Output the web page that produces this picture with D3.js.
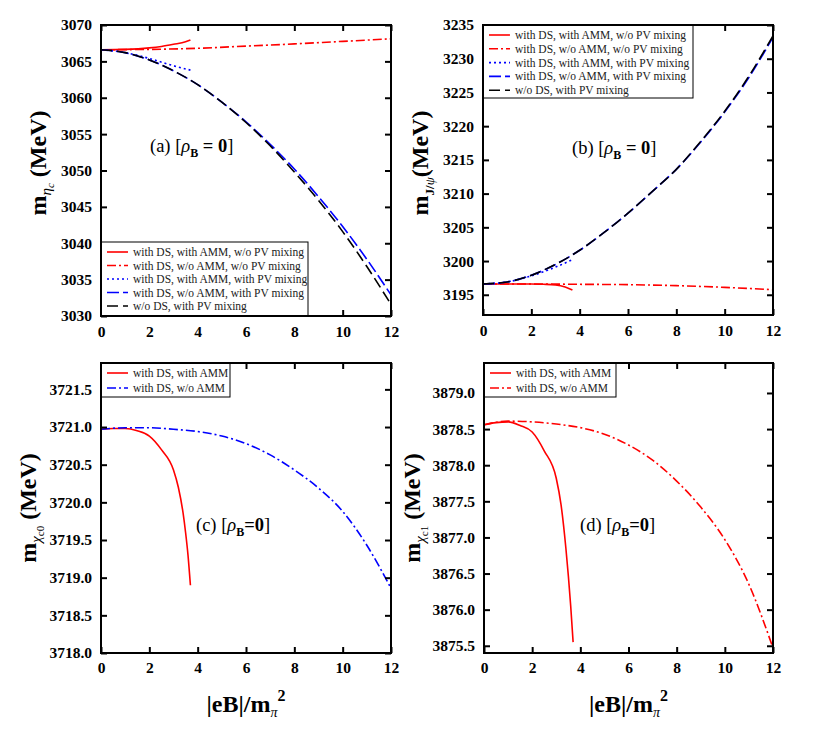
<!DOCTYPE html>
<html>
<head>
<meta charset="utf-8">
<script src="https://cdn.jsdelivr.net/npm/d3@7"></script>
<style>
  body { margin: 0; background: #fff; }
  svg text { font-family: "Liberation Serif", "Times New Roman", Times, "DejaVu Serif", serif; }
</style>
</head>
<body>
<div id="chart"></div>
<script>
// ---- data ----
var eBTicks = [0, 2, 4, 6, 8, 10, 12];

// (a) eta_c
var etaDsAmmNoPv   = [[0,3066.6],[1,3066.65],[2,3066.85],[2.5,3067.05],[3,3067.35],[3.5,3067.7],[3.7,3067.95]];
var etaDsNoAmmNoPv = [[0,3066.6],[2,3066.65],[4,3066.8],[6,3067.1],[8,3067.4],[10,3067.75],[12,3068.1]];
var etaDsAmmPv     = [[0,3066.6],[1,3066.2],[2,3065.4],[3,3064.4],[3.7,3063.8]];
var etaDsNoAmmPv   = [[0,3066.6],[1,3066.2],[2,3065.2],[3,3063.7],[4,3061.8],[5,3059.4],[6,3056.7],[7,3053.6],[8,3050.2],[9,3046.4],[10,3042.3],[11,3037.8],[12,3032.9]];
var etaNoDsPv      = [[0,3066.6],[1,3066.2],[2,3065.2],[3,3063.7],[4,3061.8],[5,3059.4],[6,3056.6],[7,3053.4],[8,3049.8],[9,3045.9],[10,3041.6],[11,3036.8],[12,3031.6]];
var etaTicks = [3030, 3035, 3040, 3045, 3050, 3055, 3060, 3065, 3070];

// (b) J/psi
var psiDsAmmNoPv   = [[0,3196.6],[1,3196.6],[2,3196.6],[2.5,3196.55],[3,3196.45],[3.4,3196.15],[3.7,3195.7]];
var psiDsNoAmmNoPv = [[0,3196.6],[2,3196.6],[4,3196.55],[6,3196.5],[8,3196.35],[10,3196.1],[12,3195.75]];
var psiDsAmmPv     = [[0,3196.6],[1,3196.9],[2,3197.8],[3,3199.1],[3.7,3200.2]];
var psiDsNoAmmPv   = [[0,3196.6],[1,3196.9],[2,3197.9],[3,3199.5],[4,3201.6],[5,3204.2],[6,3207.1],[7,3210.3],[8,3213.6],[9,3217.6],[10,3222.1],[11,3227.2],[12,3233.2]];
var psiNoDsPv      = [[0,3196.6],[1,3196.9],[2,3197.9],[3,3199.5],[4,3201.6],[5,3204.2],[6,3207.1],[7,3210.3],[8,3213.6],[9,3217.7],[10,3222.2],[11,3227.4],[12,3233.4]];
var psiTicks = [3195, 3200, 3205, 3210, 3215, 3220, 3225, 3230, 3235];

// (c) chi_c0
var chi0Amm   = [[0,3720.97],[0.5,3720.98],[1,3720.98],[1.5,3720.95],[2,3720.88],[2.5,3720.7],[3,3720.43],[3.2,3720.2],[3.4,3719.85],[3.5,3719.6],[3.6,3719.3],[3.7,3718.9]];
var chi0NoAmm = [[0,3720.97],[1,3720.99],[2,3720.99],[3,3720.97],[4,3720.94],[5,3720.88],[6,3720.78],[7,3720.63],[8,3720.43],[9,3720.19],[10,3719.88],[11,3719.43],[12,3718.86]];
var chi0Ticks = [3718.0, 3718.5, 3719.0, 3719.5, 3720.0, 3720.5, 3721.0, 3721.5];

// (d) chi_c1
var chi1Amm   = [[0,3878.56],[0.5,3878.59],[1,3878.6],[1.5,3878.55],[2,3878.46],[2.5,3878.2],[3,3877.82],[3.2,3877.45],[3.4,3876.85],[3.6,3876.05],[3.7,3875.55]];
var chi1NoAmm = [[0,3878.56],[1,3878.61],[2,3878.6],[3,3878.57],[4,3878.52],[5,3878.43],[6,3878.28],[7,3878.07],[8,3877.78],[9,3877.42],[10,3876.97],[11,3876.35],[12,3875.47]];
var chi1Ticks = [3875.5, 3876.0, 3876.5, 3877.0, 3877.5, 3878.0, 3878.5, 3879.0];

var legend5 = ["with DS, with AMM, w/o PV mixing", "with DS, w/o AMM, w/o PV mixing",
               "with DS, with AMM, with PV mixing", "with DS, w/o AMM, with PV mixing",
               "w/o DS, with PV mixing"];
var legend2 = ["with DS, with AMM", "with DS, w/o AMM"];

// line styles
var sSolidRed   = {color: "#ff0000", dash: null};
var sDashDotRed = {color: "#ff0000", dash: "9,3,2,3"};
var sDotBlue    = {color: "#0000ff", dash: "2,3"};
var sDashBlue   = {color: "#0000ff", dash: "12,4"};
var sDashDotBlue= {color: "#0000ff", dash: "9,3,2,3"};
var sDashBlack  = {color: "#000000", dash: "11,5"};

var FONT = "'Liberation Serif', 'Times New Roman', Times, serif";

var svg = d3.select("#chart").append("svg")
    .attr("width", 830).attr("height", 755)
    .attr("font-family", FONT)
    .style("background", "white");

function drawPanel(p) {
    var x = d3.scaleLinear().domain([0, 12]).range([p.left, p.right]);
    var y = d3.scaleLinear().domain(p.yDomain).range([p.bottom, p.top]);
    var g = svg.append("g");

    var line = d3.line()
        .x(function (d) { return x(d[0]); })
        .y(function (d) { return y(d[1]); })
        .curve(d3.curveMonotoneX);

    var clipId = "clip" + p.id;
    g.append("clipPath").attr("id", clipId).append("rect")
        .attr("x", p.left).attr("y", p.top)
        .attr("width", p.right - p.left).attr("height", p.bottom - p.top);

    var lines = g.append("g").attr("clip-path", "url(#" + clipId + ")");
    p.series.forEach(function (s) {
        lines.append("path")
            .attr("d", line(s.data))
            .attr("fill", "none")
            .attr("stroke", s.style.color)
            .attr("stroke-width", 1.6)
            .attr("stroke-dasharray", s.style.dash);
    });

    // axes, ticks point inward on all four sides
    var ax = g.append("g").attr("transform", "translate(0," + p.bottom + ")")
        .call(d3.axisBottom(x).tickValues(eBTicks).tickSize(-6).tickPadding(p.xPad).tickFormat(d3.format("d")));
    var axTop = g.append("g").attr("transform", "translate(0," + p.top + ")")
        .call(d3.axisTop(x).tickValues(eBTicks).tickSize(-6).tickFormat(""));
    var ay = g.append("g").attr("transform", "translate(" + p.left + ",0)")
        .call(d3.axisLeft(y).tickValues(p.yTicks).tickSize(-6).tickPadding(9).tickFormat(p.yFormat));
    var ayR = g.append("g").attr("transform", "translate(" + p.right + ",0)")
        .call(d3.axisRight(y).tickValues(p.yTicks).tickSize(-6).tickFormat(""));

    [ax, axTop, ay, ayR].forEach(function (a) {
        a.attr("font-family", FONT);
        a.select(".domain").remove();
        a.selectAll(".tick line").attr("stroke", "#000").attr("stroke-width", 2);
        a.selectAll(".tick text")
            .attr("fill", "#000")
            .style("font-family", FONT)
            .style("font-weight", "bold")
            .style("font-size", "15.5px");
    });

    // legend
    var lg = g.append("g");
    var rowH = p.legendRowH;
    lg.append("rect")
        .attr("x", p.left).attr("y", p.legendTop)
        .attr("width", p.legendW).attr("height", p.legendH)
        .attr("fill", "white").attr("stroke", "#000").attr("stroke-width", 1);
    p.legendItems.forEach(function (label, i) {
        var s = p.series[i].style;
        var cy = p.legendFirst + i * rowH;
        lg.append("line")
            .attr("x1", p.left + 6).attr("x2", p.left + 27)
            .attr("y1", cy).attr("y2", cy)
            .attr("stroke", s.color).attr("stroke-width", 1.6)
            .attr("stroke-dasharray", s.dash);
        lg.append("text")
            .attr("x", p.left + 32).attr("y", cy + 4)
            .style("font-family", FONT)
            .style("font-size", "11.5px")
            .attr("fill", "#222")
            .text(label);
    });

    // frame
    g.append("rect")
        .attr("x", p.left).attr("y", p.top)
        .attr("width", p.right - p.left).attr("height", p.bottom - p.top)
        .attr("fill", "none").attr("stroke", "#000").attr("stroke-width", 2);

    // panel tag, e.g. (a) [rho_B = 0]
    var t = g.append("text")
        .attr("x", p.tagX).attr("y", p.tagY)
        .style("font-family", FONT)
        .style("font-size", "18.5px");
    t.append("tspan").text(p.tag + " [");
    t.append("tspan").style("font-style", "italic").text("\u03c1");
    t.append("tspan").attr("dy", 5).style("font-size", "12px").style("font-weight", "bold").text("B");
    t.append("tspan").attr("dy", -5).style("font-weight", "bold").text(p.eqText);
    t.append("tspan").text("]");

    // y label
    var yl = g.append("text")
        .attr("transform", "translate(" + p.yLabelX + "," + p.yLabelY + ") rotate(-90)")
        .attr("text-anchor", "middle")
        .style("font-family", FONT)
        .style("font-size", "24px").style("font-weight", "bold");
    yl.append("tspan").text("m");
    p.ySub.forEach(function (sub) {
        yl.append("tspan").attr("dy", sub.dy)
            .style("font-size", sub.size + "px")
            .style("font-weight", sub.bold ? "bold" : "normal")
            .style("font-style", sub.italic ? "italic" : "normal")
            .text(sub.t);
    });
    yl.append("tspan").attr("dy", p.yBack).text(p.yUnit);

    // x label (only bottom row)
    if (p.xLabel) {
        var xl = g.append("text")
            .attr("x", (p.left + p.right) / 2).attr("y", 712)
            .attr("text-anchor", "middle")
            .style("font-family", FONT)
            .style("font-size", "24px").style("font-weight", "bold");
        xl.append("tspan").text("|eB|/m");
        xl.append("tspan").attr("dy", 5).style("font-size", "14px").style("font-weight", "normal")
            .style("font-style", "italic").text("\u03c0");
        xl.append("tspan").attr("dy", -16).style("font-size", "16px").text("2");
    }
}

drawPanel({
    id: "a", left: 101, right: 391, top: 25, bottom: 316,
    yDomain: [3030, 3070], yTicks: etaTicks, yFormat: d3.format("d"), xPad: 10,
    series: [
        {data: etaDsAmmNoPv, style: sSolidRed},
        {data: etaDsNoAmmNoPv, style: sDashDotRed},
        {data: etaDsAmmPv, style: sDotBlue},
        {data: etaDsNoAmmPv, style: sDashBlue},
        {data: etaNoDsPv, style: sDashBlack}
    ],
    legendItems: legend5, legendTop: 242, legendW: 207, legendH: 74, legendFirst: 252, legendRowH: 13.5,
    tag: "(a)", eqText: " = 0", tagX: 150, tagY: 152,
    yLabelX: 46, yLabelY: 163, yUnit: " (MeV)", yBack: -8,
    ySub: [{t: "\u03b7", size: 15, italic: true, dy: 5}, {t: "c", size: 11, italic: true, dy: 3}]
});

drawPanel({
    id: "b", left: 483, right: 773, top: 25, bottom: 315,
    yDomain: [3192, 3235], yTicks: psiTicks, yFormat: d3.format("d"), xPad: 10,
    series: [
        {data: psiDsAmmNoPv, style: sSolidRed},
        {data: psiDsNoAmmNoPv, style: sDashDotRed},
        {data: psiDsAmmPv, style: sDotBlue},
        {data: psiDsNoAmmPv, style: sDashBlue},
        {data: psiNoDsPv, style: sDashBlack}
    ],
    legendItems: legend5, legendTop: 25, legendW: 210, legendH: 73, legendFirst: 35, legendRowH: 13.8,
    tag: "(b)", eqText: " = 0", tagX: 572, tagY: 154,
    yLabelX: 428, yLabelY: 163, yUnit: "(MeV)", yBack: -6,
    ySub: [{t: "J/", size: 13, bold: true, dy: 6}, {t: "\u03c8", size: 13, italic: true, dy: 0}]
});

drawPanel({
    id: "c", left: 101, right: 391, top: 363, bottom: 653,
    yDomain: [3718, 3721.85], yTicks: chi0Ticks, yFormat: d3.format(".1f"), xPad: 9, xLabel: true,
    series: [
        {data: chi0Amm, style: sSolidRed},
        {data: chi0NoAmm, style: sDashDotBlue}
    ],
    legendItems: legend2, legendTop: 363, legendW: 129, legendH: 34, legendFirst: 373, legendRowH: 15,
    tag: "(c)", eqText: "=0", tagX: 196, tagY: 531,
    yLabelX: 36, yLabelY: 508, yUnit: " (MeV)", yBack: -8,
    ySub: [{t: "\u03c7", size: 15, italic: true, dy: 5}, {t: "c0", size: 11, dy: 3}]
});

drawPanel({
    id: "d", left: 484, right: 773, top: 363, bottom: 653,
    yDomain: [3875.4, 3879.415], yTicks: chi1Ticks, yFormat: d3.format(".1f"), xPad: 9, xLabel: true,
    series: [
        {data: chi1Amm, style: sSolidRed},
        {data: chi1NoAmm, style: sDashDotRed}
    ],
    legendItems: legend2, legendTop: 363, legendW: 132, legendH: 34, legendFirst: 373, legendRowH: 15,
    tag: "(d)", eqText: "=0", tagX: 580, tagY: 531,
    yLabelX: 420, yLabelY: 508, yUnit: " (MeV)", yBack: -8,
    ySub: [{t: "\u03c7", size: 15, italic: true, dy: 5}, {t: "c1", size: 11, dy: 3}]
});
</script>
</body>
</html>
